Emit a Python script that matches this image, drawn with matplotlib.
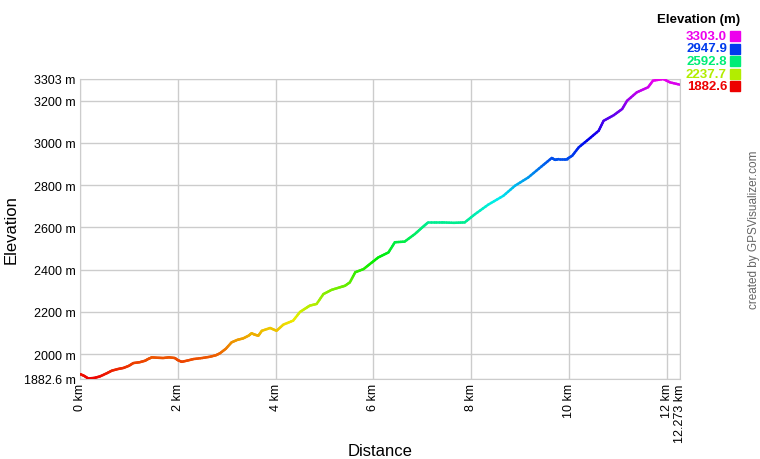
import numpy as np
import matplotlib
matplotlib.use("Agg")
import matplotlib.pyplot as plt
from matplotlib.collections import LineCollection
from matplotlib.colors import hsv_to_rgb

plt.rcParams['font.family'] = ['Liberation Sans', 'DejaVu Sans']

# profile (km, m)
dist = [0.00, 0.08, 0.17, 0.30, 0.41, 0.55, 0.65, 0.78, 0.89, 1.00, 1.09, 1.22, 1.33,
        1.40, 1.47, 1.60, 1.70, 1.82, 1.94, 2.00, 2.08, 2.20, 2.32, 2.50, 2.66, 2.78,
        2.86, 2.98, 3.10, 3.22, 3.34, 3.45, 3.51, 3.58, 3.65, 3.72, 3.89, 4.02, 4.16,
        4.36, 4.50, 4.62, 4.70, 4.84, 4.98, 5.15, 5.32, 5.42, 5.52, 5.63, 5.80, 5.93,
        6.10, 6.31, 6.44, 6.64, 6.85, 7.00, 7.12, 7.40, 7.65, 7.87, 8.08, 8.35, 8.66,
        8.90, 9.17, 9.44, 9.65, 9.72, 9.79, 9.96, 10.07, 10.20, 10.41, 10.61, 10.71,
        10.92, 11.09, 11.19, 11.39, 11.62, 11.72, 11.93, 12.07, 12.273]
elev = [1906, 1898, 1885, 1888, 1895, 1910, 1922, 1930, 1935, 1945, 1958, 1962, 1969,
        1978, 1985, 1983, 1982, 1985, 1982, 1972, 1964, 1970, 1977, 1982, 1988, 1995,
        2004, 2025, 2056, 2068, 2075, 2088, 2099, 2092, 2088, 2111, 2124, 2111, 2140,
        2159, 2200, 2218, 2230, 2238, 2285, 2305, 2317, 2324, 2340, 2388, 2403, 2427,
        2458, 2482, 2530, 2533, 2569, 2600, 2624, 2624, 2622, 2624, 2663, 2708, 2750,
        2798, 2837, 2889, 2929, 2920, 2924, 2924, 2940, 2979, 3019, 3058, 3105,
        3132, 3161, 3200, 3240, 3264, 3295, 3303, 3287, 3276]

emin, emax = 1882.6, 3303.0
legend_vals = [3303.0, 2947.9, 2592.8, 2237.7, 1882.6]
yticks = [1882.6, 2000, 2200, 2400, 2600, 2800, 3000, 3200, 3303]
ylabels = ['1882.6 m', '2000 m', '2200 m', '2400 m', '2600 m', '2800 m', '3000 m', '3200 m', '3303 m']
xticks = [0, 2, 4, 6, 8, 10, 12, 12.273]
xlabels = ['0 km', '2 km', '4 km', '6 km', '8 km', '10 km', '12 km', '12.273 km']


def ecolor(e):
    h = (e - emin) / (emax - emin) * 300 / 360
    return hsv_to_rgb([h, 1.0, 0.93])


fig = plt.figure(figsize=(7.6, 4.6), dpi=100)
ax = fig.add_axes([80 / 760, 80 / 460, 600 / 760, 300 / 460])

# split each segment finely so the colour follows elevation
xs, ys = [], []
for i in range(len(dist) - 1):
    t = np.linspace(0, 1, 6)[:-1]
    xs.extend(dist[i] + t * (dist[i + 1] - dist[i]))
    ys.extend(elev[i] + t * (elev[i + 1] - elev[i]))
xs.append(dist[-1])
ys.append(elev[-1])
pts = np.column_stack([xs, ys]).reshape(-1, 1, 2)
segs = np.concatenate([pts[:-1], pts[1:]], axis=1)
cols = [ecolor((ys[i] + ys[i + 1]) / 2) for i in range(len(ys) - 1)]
ax.add_collection(LineCollection(segs, colors=cols, linewidths=1.8, capstyle='round', zorder=3))

ax.set_xlim(0, 12.273)
ax.set_ylim(emin, emax)
ax.set_xticks(xticks)
ax.set_xticklabels(xlabels, rotation=90)
ax.set_yticks(yticks)
ax.set_yticklabels(ylabels)
ax.tick_params(length=0, labelsize=9, pad=3, colors='#000000')
ax.grid(True, color='#cccccc', linewidth=1)
ax.set_axisbelow(True)
for s in ax.spines.values():
    s.set_color('#cccccc')

fig.text(380 / 760, 1 - 452 / 460, 'Distance', fontsize=12, ha='center', va='center')
fig.text(11 / 760, 1 - 230 / 460, 'Elevation', fontsize=12, rotation=90,
         ha='center', va='center')

# colour key
fig.text(740 / 760, 1 - 20 / 460, 'Elevation (m)', fontsize=9.5, fontweight='bold',
         ha='right', va='center')
for k, v in enumerate(legend_vals):
    y = 1 - (37 + k * 12.5) / 460
    c = ecolor(v)
    fig.text(727 / 760, y, '%.1f' % v, fontsize=9.5, fontweight='bold', color=c,
             ha='right', va='center')
    fig.patches.append(plt.Rectangle((730 / 760, y - 5 / 460), 10 / 760, 10 / 460,
                                     transform=fig.transFigure, color=c))

fig.text(754 / 760, 230 / 460, 'created by GPSVisualizer.com', rotation=90,
         fontsize=8.5, color='#666666', ha='center', va='center')

fig.savefig('out.png', dpi=100)
